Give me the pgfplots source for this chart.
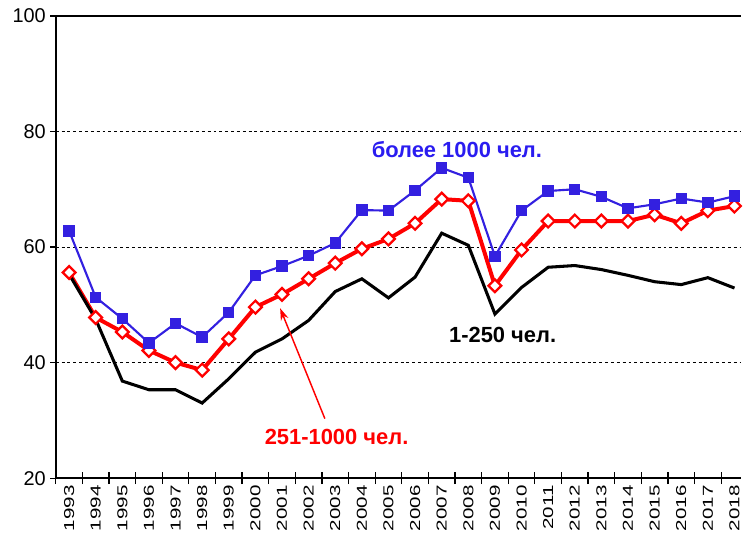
\documentclass[border=0pt]{standalone}
\usepackage{fontspec}
\setmainfont{Liberation Sans}
\usepackage{graphicx}
\usepackage{pgfplots}
\usepackage{pgfplotstable}
\pgfplotsset{compat=1.18}
\usetikzlibrary{arrows.meta}
\definecolor{bigBlue}{HTML}{3320E0}
\definecolor{txtBlue}{HTML}{2A1CF0}
\definecolor{midRed}{HTML}{FF0000}

\newcommand{\yr}[1]{\scalebox{1}[0.7]{#1}}

% share of enterprises by size group, %
\pgfplotstableread{
year big  mid  small
1993 62.8 55.6 55.3
1994 51.3 47.8 47.5
1995 47.6 45.3 36.8
1996 43.4 42.1 35.3
1997 46.8 40.0 35.3
1998 44.4 38.7 33.0
1999 48.7 44.1 37.2
2000 55.1 49.6 41.8
2001 56.7 51.8 44.1
2002 58.5 54.5 47.3
2003 60.7 57.2 52.3
2004 66.4 59.7 54.5
2005 66.3 61.4 51.2
2006 69.8 64.1 54.8
2007 73.7 68.3 62.4
2008 72.0 68.0 60.3
2009 58.4 53.3 48.4
2010 66.3 59.5 53.0
2011 69.7 64.5 56.5
2012 70.0 64.5 56.8
2013 68.7 64.5 56.1
2014 66.7 64.5 55.1
2015 67.4 65.6 54.0
2016 68.4 64.1 53.5
2017 67.7 66.3 54.7
2018 68.8 67.1 52.9
}\sizes

\begin{document}
\begin{tikzpicture}
\begin{axis}[
  scale only axis,
  width=516pt,
  height=348pt,
  xmin=-0.5, xmax=25.25,
  ymin=20, ymax=100,
  clip=false,
  axis x line=box,
  axis y line=left,
  axis line style={line width=1.2pt, -},
  xtick={0,...,25},
  xticklabels={\yr{1993},\yr{1994},\yr{1995},\yr{1996},\yr{1997},\yr{1998},\yr{1999},\yr{2000},\yr{2001},\yr{2002},\yr{2003},\yr{2004},\yr{2005},\yr{2006},\yr{2007},\yr{2008},\yr{2009},\yr{2010},\yr{2011},\yr{2012},\yr{2013},\yr{2014},\yr{2015},\yr{2016},\yr{2017},\yr{2018}},
  major x tick style={draw=none},
  minor xtick={-0.5,0.5,...,24.5},
  minor x tick style={line width=0.9pt, black},
  minor tick length=9pt,
  xtick align=center,
  xtick pos=left,
  xticklabel style={rotate=90, anchor=east, font=\fontsize{15.5}{15.5}\selectfont},
  ytick={20,40,60,80,100},
  ytick pos=left,
  ytick align=outside,
  major tick length=4pt,
  y tick style={line width=0.9pt, black},
  yticklabel style={font=\fontsize{15}{15}\selectfont},
  /pgf/number format/assume math mode=true,
  ymajorgrids=true,
  grid style={draw=black, line width=0.6pt, dash pattern=on 2.2pt off 2.2pt},
]
\addplot[midRed, line width=3pt, mark=square*, mark size=3.4pt,
  mark options={rotate=45, fill=white, draw=midRed, line width=1.7pt}]
  table[x expr=\thisrow{year}-1993, y=mid] {\sizes};
\addplot[black, line width=2.3pt, no marks]
  table[x expr=\thisrow{year}-1993, y=small] {\sizes};
\addplot[bigBlue, line width=1.6pt, mark=square*, mark size=3.5pt,
  mark options={fill=bigBlue, draw=bigBlue}]
  table[x expr=\thisrow{year}-1993, y=big] {\sizes};

\node[txtBlue, font=\bfseries\fontsize{16.5}{16.5}\selectfont] at (axis cs:14.57,76.9) {более 1000 чел.};
\node[black, font=\bfseries\fontsize{16.5}{16.5}\selectfont] at (axis cs:16.29,44.7) {1-250 чел.};
\node[midRed, font=\bfseries\fontsize{16.5}{16.5}\selectfont] at (axis cs:10.05,27.2) {251-1000 чел.};
\draw[midRed, line width=1.1pt, -{Stealth[length=9pt, width=6pt]}] (axis cs:9.61,30.3) -- (axis cs:7.93,49.4);
\end{axis}
\path (current axis.south west) ++(-42pt,-40.5pt) coordinate (bl);
\path (current axis.north east) ++(0pt,12pt) coordinate (tr);
\path (bl) rectangle (tr);
\end{tikzpicture}
\end{document}
